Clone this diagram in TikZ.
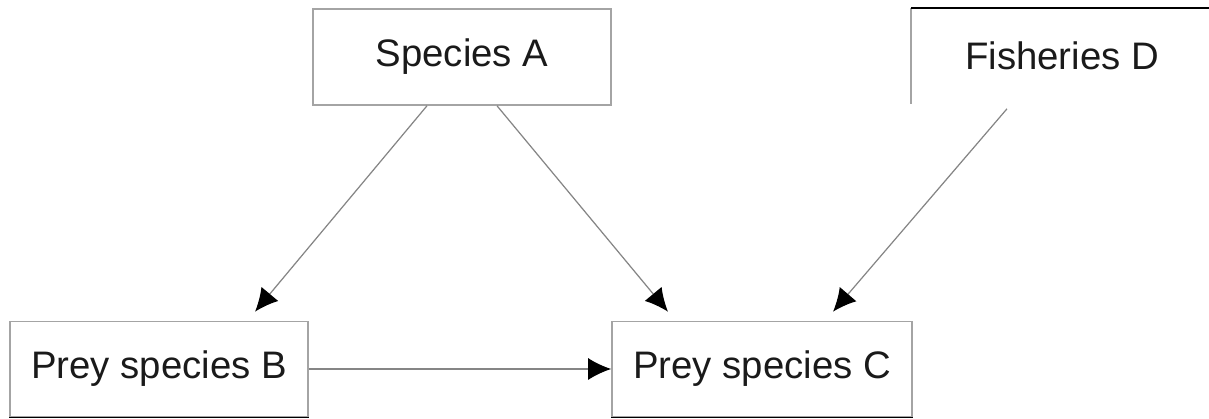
\documentclass[tikz,border=0pt]{standalone}
\usepackage{fontspec}
\setmainfont{Liberation Sans}
\usetikzlibrary{arrows.meta}
\usetikzlibrary{positioning}
\definecolor{boxgray}{HTML}{A4A4A4}
\definecolor{linegray}{HTML}{858585}
\definecolor{textgray}{HTML}{1A1A1A}
\tikzset{box/.style={draw=boxgray, line width=0.45pt, minimum width=2.98cm, minimum height=0.96cm, inner sep=0pt, text=textgray, font=\fontsize{10.9}{12}\selectfont},
	link/.style={draw=linegray, line width=0.35pt, -{Latex[black,length=2.3mm,width=2.2mm]}}}

\begin{document}
\begin{tikzpicture}[x=0.01cm,y=-0.01cm]
	\useasboundingbox (0,0) rectangle (1209,419);
	\node[box] (spA) at (462,57) {Species A};
	\node[box, minimum height=0.95cm] (preyB) at (159,369) {Prey species B};
	\node[box, minimum width=3cm, minimum height=0.95cm] (preyC) at (762,369) {Prey species C};
	\node[box, draw=none, minimum width=3cm, minimum height=0.94cm] (fishD) at (1062,56) {Fisheries D};
	\draw[boxgray, line width=0.45pt] (fishD.south west) -- (fishD.north west);
	\draw[black, line width=0.45pt] (fishD.north west) -- (fishD.north east);
	\draw[black, line width=0.45pt] (preyB.south west) -- (preyB.south east);
	\draw[black, line width=0.45pt] (preyC.south west) -- (preyC.south east);
	\draw[link] ([xshift=-0.35cm]spA.south) -- ([shift={(0.96cm,0.09cm)}]preyB.north);
	\draw[link] ([xshift=0.35cm]spA.south) -- ([shift={(-0.94cm,0.09cm)}]preyC.north);
	\draw[link] ([shift={(-0.55cm,-0.05cm)}]fishD.south) -- ([shift={(0.71cm,0.09cm)}]preyC.north);
	\draw[link] (preyB.east) -- (preyC.west);
\end{tikzpicture}
\end{document}
